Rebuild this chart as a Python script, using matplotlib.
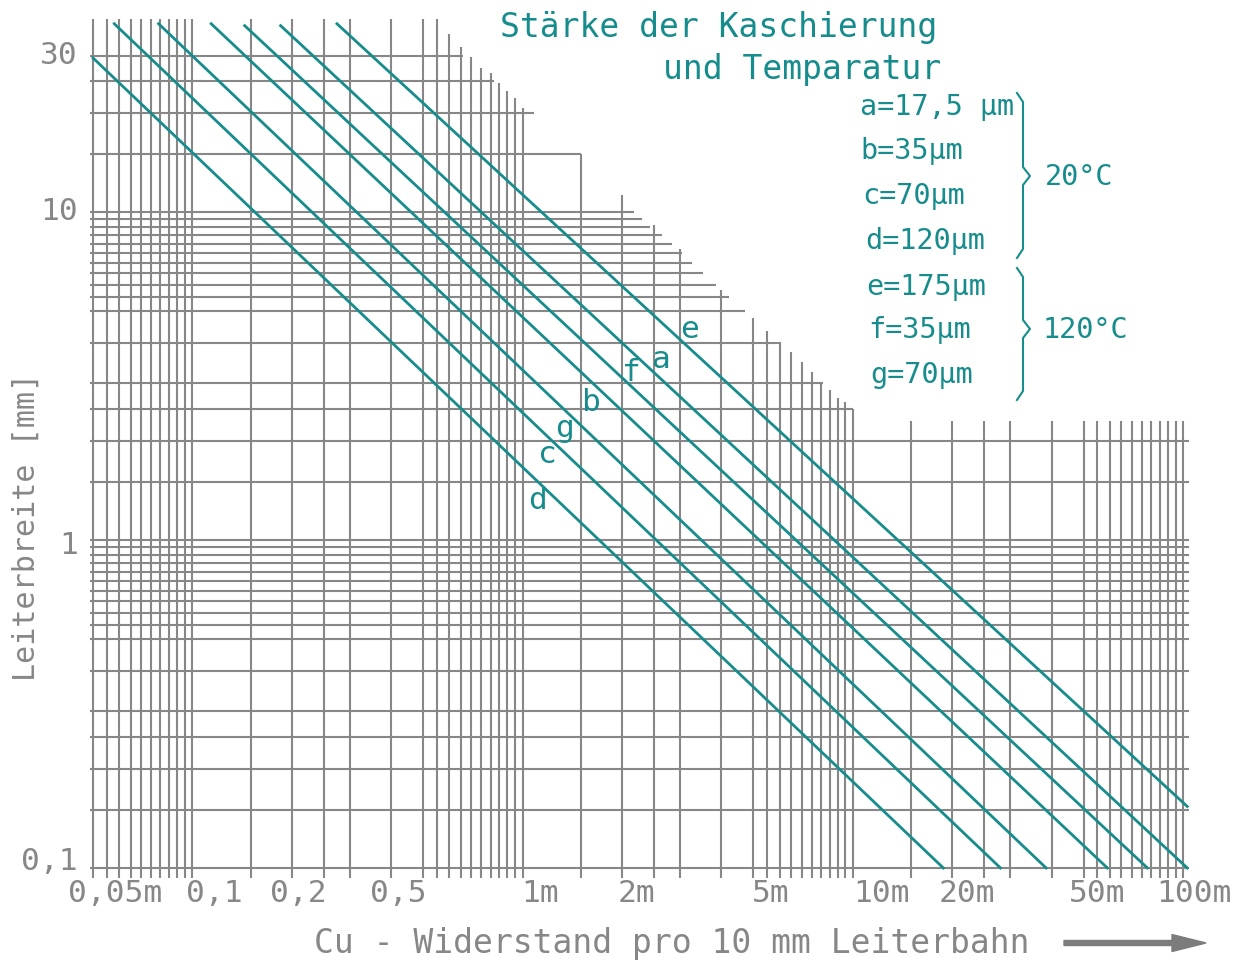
import numpy as np
import matplotlib
matplotlib.use("Agg")
import matplotlib.pyplot as plt

# Geraden: Leiterbreite [mm] ueber Cu-Widerstand [mOhm] pro 10 mm,
# Anfangs- und Endpunkte
kurven = ["d", "c", "g", "b", "f", "a", "e"]
start_r = [0.05, 0.058, 0.079, 0.114, 0.144, 0.185, 0.274]
start_b = [29.5, 37.5, 37.5, 37.5, 37.0, 37.0, 37.5]
ende_r = [18.8, 28.0, 38.5, 59.0, 78.0, 103.0, 103.0]
ende_b = [0.1, 0.1, 0.1, 0.1, 0.1, 0.1, 0.154]

# Lage der Buchstaben an den Geraden
label_r = [1.11, 1.19, 1.34, 1.62, 2.14, 2.64, 3.21]
label_b = [1.32, 1.82, 2.19, 2.63, 3.25, 3.54, 4.37]

legende = ["a=17,5 µm", "b=35µm", "c=70µm", "d=120µm", "e=175µm", "f=35µm", "g=70µm"]
temperaturen = ["20°C", "120°C"]

x_ticks = ["0,05m", "0,1", "0,2", "0,5", "1m", "2m", "5m", "10m", "20m", "50m", "100m"]
y_ticks = ["30", "10", "1", "0,1"]

TEAL = "#178c8c"
GRAU = "#878787"
FONT = "DejaVu Sans Mono"
W, H = 1246, 963


def dicht(a, b):
    return [round(v, 3) for v in np.linspace(a, b, 11)]


# Gitter des Logpapiers mit abgeschnittener Ecke oben rechts
gx = dicht(0.05, 0.1) + [0.15, 0.2, 0.25, 0.3, 0.4] + dicht(0.5, 1) + \
     [1.5, 2, 2.5, 3, 4] + dicht(5, 10) + [15, 20, 25, 30, 40] + dicht(50, 100)
gx_oben = {0.6: 35, 0.65: 31.8, 0.7: 29.7, 0.75: 27.5, 0.8: 26.6, 0.85: 24.8,
           0.9: 23.4, 0.95: 22.2, 1.0: 20.8, 1.5: 15, 2: 11.3, 2.5: 9.1, 3: 7.7,
           4: 5.8, 5: 4.75, 5.5: 4.35, 6: 4.0, 6.5: 3.75, 7: 3.5, 7.5: 3.25,
           8: 3.03, 8.5: 2.87, 9: 2.71, 9.5: 2.64, 10: 2.5}
gy = [0.1, 0.15, 0.2, 0.25, 0.3, 0.4] + dicht(0.5, 1) + [1.5, 2, 2.5, 3, 4] + \
     dicht(5, 10) + [15, 20, 25, 30]
gy_rechts = {2.5: 10, 3: 8.1, 4: 6.08, 5: 4.73, 5.5: 4.23, 6: 3.84, 6.5: 3.53,
             7: 3.25, 7.5: 3.03, 8: 2.83, 8.5: 2.64, 9: 2.43, 9.5: 2.3, 10: 2.17,
             15: 1.5, 20: 1.08, 25: 0.82, 30: 0.66}

fig = plt.figure(figsize=(W / 100, H / 100), dpi=100)
ax = fig.add_axes([85 / W, 1 - 880 / H, 1110 / W, 865 / H])
ax.set_xscale("log")
ax.set_yscale("log")
ax.set_xlim(0.0473, 108.7)
ax.set_ylim(0.0919, 39.87)
ax.axis("off")

for x in gx:
    if x <= 0.55:
        top = 38.76
    elif x >= 15:
        top = 2.31
    else:
        top = gx_oben[x]
    ax.vlines(x, 0.0932, top, color=GRAU, lw=1.5, zorder=1)
for y in gy:
    ax.hlines(y, 0.049, gy_rechts.get(y, 104.0), color=GRAU, lw=1.5, zorder=1)

for i, k in enumerate(kurven):
    ax.plot([start_r[i], ende_r[i]], [start_b[i], ende_b[i]], color=TEAL, lw=2.0, zorder=2)
    ax.text(label_r[i], label_b[i], k, color=TEAL, fontsize=22.5, family=FONT,
            ha="center", va="center", zorder=3)

# Overlay in Pixelkoordinaten fuer Beschriftung
ov = fig.add_axes([0, 0, 1, 1], zorder=5)
ov.set_xlim(0, W)
ov.set_ylim(H, 0)
ov.axis("off")
ov.patch.set_alpha(0)

ov.text(500, 27, "Stärke der Kaschierung", color=TEAL, fontsize=23.8, family=FONT, va="center")
ov.text(663, 69, "und Temparatur", color=TEAL, fontsize=23.8, family=FONT, va="center")

leg_x = [860, 860, 862, 865, 866, 868, 870]
leg_y = [107, 151, 196, 241, 287, 330, 375]
for t, lx, ly in zip(legende, leg_x, leg_y):
    ov.text(lx, ly, t, color=TEAL, fontsize=20.5, family=FONT, va="center")


def klammer(x0, oben, mitte, unten):
    xs = [x0 - 6, x0, x0, x0 + 7, x0, x0, x0 - 6]
    ys = [oben, oben + 9, mitte - 9, mitte, mitte + 9, unten - 9, unten]
    ov.plot(xs, ys, color=TEAL, lw=1.5)


klammer(1023, 93, 176, 258)
klammer(1023, 268, 329, 400)
ov.text(1045, 177, temperaturen[0], color=TEAL, fontsize=20.5, family=FONT, va="center")
ov.text(1043, 330, temperaturen[1], color=TEAL, fontsize=20.5, family=FONT, va="center")

xt_pos = [115, 214, 298, 398, 540, 636, 771, 882, 967, 1097, 1194]
for t, px in zip(x_ticks, xt_pos):
    ov.text(px, 893, t, color=GRAU, fontsize=22.5, family=FONT, ha="center", va="center")
yt_pos = [55, 212, 546, 862]
for t, py in zip(y_ticks, yt_pos):
    ov.text(78, py, t, color=GRAU, fontsize=22.5, family=FONT, ha="right", va="center")

ov.text(672, 943, "Cu - Widerstand pro 10 mm Leiterbahn", color=GRAU, fontsize=23.8,
        family=FONT, ha="center", va="center")
ov.text(26, 527, "Leiterbreite [mm]", color=GRAU, fontsize=21.7, family=FONT,
        ha="center", va="center", rotation=90)
ov.arrow(1064, 943, 142, 0, width=5, head_width=17, head_length=34,
         length_includes_head=True, color="#7c7c7c")

fig.savefig("out.png", dpi=100)
